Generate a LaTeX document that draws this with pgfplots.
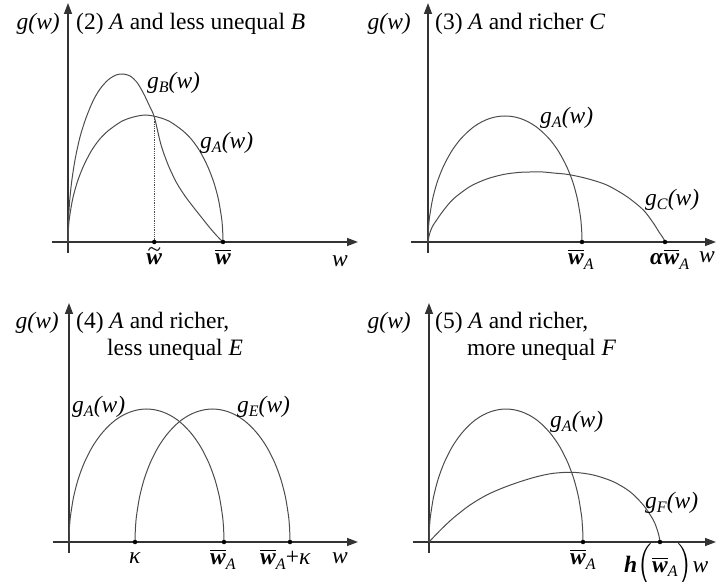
\documentclass[border=0pt]{standalone}
\usepackage{amsmath}
\usepackage{fontspec}
\setmainfont{Liberation Serif}
\usepackage{pgfplots}
\pgfplotsset{compat=1.18}
\usetikzlibrary{arrows.meta}

% lowered, fairly large subscripts as in the reference
\newcommand{\sub}[1]{\raisebox{-0.4ex}{\fontsize{16}{16}\selectfont\textit{#1}}}
% bold italic w with a bar, and with subscript A
\newcommand{\wb}{$\overline{\mbox{\textbf{\textit{w}}}}$}
\newcommand{\wbA}{\wb\sub{A}}
\newcommand{\gsub}[1]{\textit{g}\sub{#1}\textit{(w)}}

\tikzset{lbl/.style={font=\fontsize{23.5}{26}\selectfont, inner sep=0pt}}
\pgfplotsset{
  panel/.style={
    x=1pt, y=1pt, anchor=origin,
    xmin=-16, ymin=-11, ymax=239,
    axis lines=middle, xtick=\empty, ytick=\empty, clip=false,
    axis line style={draw=black!80, line width=1.4pt,
      -{Triangle[length=11pt,width=8pt]}},
  },
  crv/.style={smooth, tension=0.5, black!70, line width=1pt, mark=none},
  dots/.style={only marks, mark=*, mark size=2pt, black},
}

\begin{document}
\begin{tikzpicture}
\useasboundingbox (0pt,0pt) rectangle (717pt,581pt);

% (2) A and less unequal B
\begin{axis}[panel, at={(68pt,339pt)}, xmax=290]
\addplot[crv] coordinates {
  (0,0)(0.31,11)(0.78,18)(1.55,25)(4.65,43)(9.3,60)(15.5,76)(23.25,91)
  (31,102)(38.75,110)(46.5,116)(54.25,121)(62,124)(69.75,126)(77.5,127)
  (85.25,126)(93,124)(100.75,121)(108.5,116)(116.25,110)(124,102)
  (131.75,91)(139.5,76)(145.7,60)(150.35,43)(153.45,25)(154.22,18)
  (154.69,11)(155,0)};
\addplot[crv] coordinates {
  (0,0)(0.2,15)(0.5,22)(1.5,39)(3.5,59)(7,82)(12,105)(18,124)(25,141)
  (32,153)(40,162)(48,167)(55,168)(62,166)(68.7,160)(75.3,149)(82,135)
  (86.3,125)(92,101)(95.3,90)(101,75)(108.7,59)(117,46)(125.3,35)
  (134,24)(142,14)(149,6)(155,0)};
\addplot[densely dotted, black!70, line width=0.8pt] coordinates {(86.3,0)(86.3,125)};
\addplot[dots] coordinates {(86.3,0)(155,0)};
\node[lbl, anchor=east] at (axis cs:-8,218) {\textit{g(w)}};
\node[lbl, anchor=west] at (axis cs:8,218) {(2) \textit{A} and less unequal \textit{B}};
\node[lbl, anchor=west] at (axis cs:79,159) {\gsub{B}};
\node[lbl, anchor=west] at (axis cs:132,99) {\gsub{A}};
% w with a tilde: the tilde is drawn as a small wave
\draw[black!85, line width=1.2pt]
  (axis cs:80.5,-8.5) .. controls (axis cs:82.5,-4.5) and (axis cs:84.5,-5)
  .. (axis cs:86.3,-7) .. controls (axis cs:88,-9) and (axis cs:90,-9.5)
  .. (axis cs:92,-5.5);
\node[lbl, anchor=north] at (axis cs:86.3,-12) {\textbf{\textit{w}}};
\node[lbl, anchor=north] at (axis cs:155,-7) {\wb};
\node[lbl] at (axis cs:272,-19) {\textit{w}};
\end{axis}

% (3) A and richer C
\begin{axis}[panel, at={(428pt,339pt)}, xmin=-17, xmax=288]
\addplot[crv] coordinates {
  (0,0)(0.31,11.3)(0.77,17.8)(1.54,25)(4.62,43)(9.24,60)(15.4,75.6)
  (23.1,90)(30.8,100.8)(38.5,109)(46.2,115.5)(53.9,120.2)(61.6,123.5)
  (69.3,125.4)(77,126)(84.7,125.4)(92.4,123.5)(100.1,120.2)(107.8,115.5)
  (115.5,109)(123.2,100.8)(130.9,90)(138.6,75.6)(144.8,60)(149.4,43)
  (152.5,25)(153.2,17.8)(153.7,11.3)(154,0)};
\addplot[crv] coordinates {
  (0,0)(0.8,5)(2.5,11)(5,16.5)(8.7,22)(15,31)(25.3,43)(42,55.5)
  (58.7,63)(75.3,67.5)(90,69.5)(102,70)(115,70)(125.3,69)(140.3,67.5)
  (158.7,63.5)(178.7,57)(198.7,45.5)(215.3,32)(225.3,19)(231,10)
  (234.5,5)(236.5,1.5)(237,0)};
\addplot[dots] coordinates {(154,0)(237,0)};
\node[lbl, anchor=east] at (axis cs:-17,218) {\textit{g(w)}};
\node[lbl, anchor=west] at (axis cs:7,218) {(3) \textit{A} and richer \textit{C}};
\node[lbl, anchor=west] at (axis cs:112,124) {\gsub{A}};
\node[lbl, anchor=west] at (axis cs:217,42) {\gsub{C}};
\node[lbl, anchor=north west] at (axis cs:140,-7) {\wbA};
\node[lbl, anchor=north west] at (axis cs:222,-7) {\textbf{\textit{α}}\wbA};
\node[lbl] at (axis cs:279,-15) {\textit{w}};
\end{axis}

% (4) A and richer, less unequal E
\begin{axis}[panel, at={(69pt,39pt)}, xmax=289]
\addplot[crv] coordinates {
  (0,0)(0.31,11.9)(0.78,18.8)(1.55,26.5)(4.65,45.4)(9.3,63.2)(15.5,79.8)
  (23.25,95)(31,106.4)(38.75,115.2)(46.5,122)(54.25,126.9)(62,130.3)
  (69.75,132.3)(77.5,133)(85.25,132.3)(93,130.3)(100.75,126.9)(108.5,122)
  (116.25,115.2)(124,106.4)(131.75,95)(139.5,79.8)(145.7,63.2)
  (150.35,45.4)(153.45,26.5)(154.22,18.8)(154.69,11.9)(155,0)};
\addplot[crv] coordinates {
  (66,0)(66.31,11.9)(66.78,18.8)(67.55,26.5)(70.65,45.4)(75.3,63.2)
  (81.5,79.8)(89.25,95)(97,106.4)(104.75,115.2)(112.5,122)(120.25,126.9)
  (128,130.3)(135.75,132.3)(143.5,133)(151.25,132.3)(159,130.3)
  (166.75,126.9)(174.5,122)(182.25,115.2)(190,106.4)(197.75,95)
  (205.5,79.8)(211.7,63.2)(216.35,45.4)(219.45,26.5)(220.22,18.8)
  (220.69,11.9)(221,0)};
\addplot[dots] coordinates {(66,0)(155,0)(221,0)};
\node[lbl, anchor=east] at (axis cs:-10,219) {\textit{g(w)}};
\node[lbl, anchor=west] at (axis cs:7,219) {(4) \textit{A} and richer,};
\node[lbl, anchor=west] at (axis cs:38,192) {less unequal \textit{E}};
\node[lbl, anchor=west] at (axis cs:3,135) {\gsub{A}};
\node[lbl, anchor=west] at (axis cs:168,135) {\gsub{E}};
\node[lbl] at (axis cs:66,-16) {\textit{κ}};
\node[lbl, anchor=north west] at (axis cs:141,-7) {\wbA};
\node[lbl, anchor=north west] at (axis cs:191,-7) {\wbA+\textit{κ}};
\node[lbl] at (axis cs:271,-16) {\textit{w}};
\end{axis}

% (5) A and richer, more unequal F
\begin{axis}[panel, at={(429pt,39pt)}, xmax=287]
\addplot[crv] coordinates {
  (0,0)(0.31,11.9)(0.77,18.8)(1.54,26.5)(4.62,45.4)(9.24,63.2)(15.4,79.8)
  (23.1,95)(30.8,106.4)(38.5,115.2)(46.2,122)(53.9,126.9)(61.6,130.3)
  (69.3,132.3)(77,133)(84.7,132.3)(92.4,130.3)(100.1,126.9)(107.8,122)
  (115.5,115.2)(123.2,106.4)(130.9,95)(138.6,79.8)(144.8,63.2)
  (149.4,45.4)(152.5,26.5)(153.2,18.8)(153.7,11.9)(154,0)};
\addplot[crv] coordinates {
  (0,0)(12,12.5)(24.3,24)(41,37)(57.7,47)(74.3,54.3)(91,60.3)(107.7,65.3)
  (124.3,68.7)(144.3,69.7)(164.3,67)(184.3,60.3)(201,50.3)(214.3,37)
  (224.3,22)(228.3,12)(230,6)(231,0)};
\addplot[dots] coordinates {(154,0)(231,0)};
\node[lbl, anchor=east] at (axis cs:-18,219) {\textit{g(w)}};
\node[lbl, anchor=west] at (axis cs:6,219) {(5) \textit{A} and richer,};
\node[lbl, anchor=west] at (axis cs:38,192) {more unequal \textit{F}};
\node[lbl, anchor=west] at (axis cs:121,120) {\gsub{A}};
\node[lbl, anchor=west] at (axis cs:216,39) {\gsub{F}};
\node[lbl, anchor=north west] at (axis cs:141,-7) {\wbA};
\node[lbl, anchor=north west] at (axis cs:195,-1.5) {\textbf{\textit{h}}$\Bigl($\wbA$\Bigr)$\textit{w}};
\end{axis}
\end{tikzpicture}
\end{document}
